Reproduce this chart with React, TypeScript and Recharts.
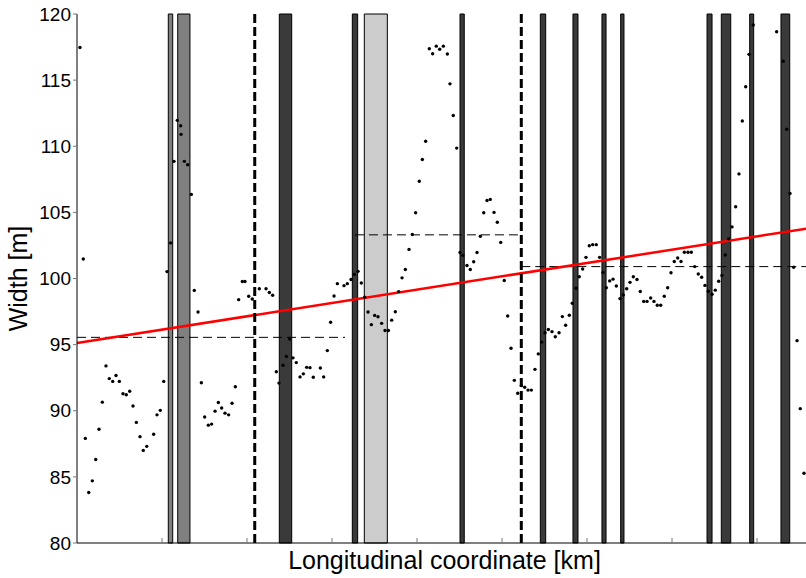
import { ComposedChart, Scatter, Line, XAxis, YAxis, ReferenceArea, ReferenceLine, Label } from 'recharts';

// Channel width samples along the reach
const stationKm = [
  0.035, 0.074, 0.098, 0.138, 0.18, 0.22, 0.259, 0.298, 0.341, 0.38, 0.42, 0.459, 0.498, 0.541, 0.58, 0.62,
  0.659, 0.698, 0.741, 0.78, 0.82, 0.902, 0.941, 0.98, 1.02, 1.059, 1.102, 1.141, 1.18, 1.22, 1.224, 1.263,
  1.302, 1.345, 1.38, 1.424, 1.463, 1.502, 1.545, 1.584, 1.624, 1.663, 1.702, 1.741, 1.784, 1.824, 1.863, 1.902,
  1.945, 1.976, 2.02, 2.062, 2.145, 2.224, 2.263, 2.302, 2.345, 2.376, 2.424, 2.463, 2.502, 2.541, 2.58, 2.624,
  2.663, 2.702, 2.741, 2.78, 2.863, 2.902, 2.945, 2.984, 3.024, 3.063, 3.141, 3.18, 3.224, 3.263, 3.306, 3.345,
  3.385, 3.424, 3.463, 3.502, 3.541, 3.584, 3.624, 3.663, 3.702, 3.745, 3.784, 3.824, 3.863, 3.906, 3.945, 3.984,
  4.027, 4.063, 4.102, 4.145, 4.184, 4.227, 4.267, 4.31, 4.357, 4.388, 4.427, 4.467, 4.506, 4.538, 4.588, 4.627,
  4.667, 4.706, 4.745, 4.785, 4.824, 4.862, 4.906, 4.945, 4.985, 5.027, 5.067, 5.106, 5.145, 5.185, 5.227, 5.267,
  5.306, 5.345, 5.388, 5.427, 5.467, 5.506, 5.545, 5.588, 5.627, 5.671, 5.71, 5.749, 5.792, 5.827, 5.871, 5.909,
  5.949, 5.988, 6.027, 6.067, 6.109, 6.149, 6.188, 6.227, 6.267, 6.306, 6.345, 6.388, 6.427, 6.467, 6.506, 6.545,
  6.588, 6.627, 6.667, 6.706, 6.749, 6.788, 6.827, 6.867, 6.909, 6.949, 6.988, 7.027, 7.067, 7.106, 7.145, 7.188,
  7.227, 7.267, 7.309, 7.349, 7.388, 7.427, 7.471, 7.509, 7.549, 7.588, 7.627, 7.667, 7.706, 7.749, 7.788, 7.827,
  7.867, 7.906, 7.956, 8.231, 8.309, 8.349, 8.388, 8.431, 8.471, 8.509, 8.553,
];

const widthM = [
  117.47, 101.47, 87.91, 83.82, 84.7, 86.31, 88.6, 90.65, 93.39, 92.43, 92.22, 92.66, 92.22, 91.29, 91.21, 91.47,
  90.36, 89.12, 88.04, 87.0, 87.31, 88.22, 89.69, 90.03, 92.22, 100.52, 102.69, 108.86, 111.96, 111.55, 110.9, 108.86,
  108.6, 106.36, 99.1, 97.47, 92.12, 89.53, 88.91, 88.99, 89.97, 90.62, 90.21, 89.82, 89.69, 90.57, 91.81, 98.4,
  99.77, 99.77, 98.66, 98.45, 99.22, 99.22, 98.94, 98.73, 92.95, 92.09, 93.44, 94.11, 95.43, 94.0, 93.64, 92.56,
  92.79, 93.28, 93.26, 92.53, 93.23, 92.56, 94.55, 96.69, 98.68, 99.61, 99.46, 99.61, 99.92, 100.31, 100.54, 99.66,
  98.58, 97.47, 96.51, 97.21, 97.11, 96.61, 96.07, 96.07, 96.85, 97.49, 99.01, 100.05, 100.68, 102.2, 103.33, 104.97,
  107.35, 109.0, 110.38, 117.37, 117.0, 117.57, 117.34, 117.57, 116.97, 114.72, 112.32, 109.86, 101.97, 101.75, 100.98, 100.68,
  101.27, 101.97, 103.2, 104.97, 105.9, 105.98, 105.0, 104.25, 102.73, 99.85, 97.16, 94.73, 92.3, 91.32, 91.9, 91.78,
  91.56, 91.56, 93.13, 94.3, 95.19, 95.9, 96.14, 95.98, 95.6, 95.9, 97.12, 96.46, 97.22, 98.13, 99.26, 100.13,
  100.72, 101.6, 102.48, 102.56, 102.56, 101.6, 100.46, 99.3, 99.82, 99.95, 99.43, 98.48, 98.76, 99.22, 99.71, 100.13,
  99.92, 99.02, 98.27, 98.27, 98.53, 98.27, 97.98, 97.98, 98.66, 99.3, 100.44, 101.29, 101.55, 101.29, 101.99, 101.99,
  101.99, 100.9, 100.34, 100.1, 99.48, 99.04, 98.81, 99.12, 99.79, 100.23, 101.78, 103.0, 103.9, 105.43, 107.91, 111.91,
  114.5, 116.95, 119.17, 118.66, 116.43, 111.29, 106.43, 100.85, 95.3, 90.16, 85.27,
];

// Shaded stretches (structures / bridges) along the reach
const reachStart = [1.074, 1.185, 2.38, 3.239, 3.38, 4.506, 5.451, 5.835, 6.176, 6.396, 7.412, 7.58, 7.914, 8.282];
const reachEnd = [1.126, 1.329, 2.526, 3.302, 3.651, 4.556, 5.514, 5.894, 6.224, 6.435, 7.471, 7.691, 7.961, 8.385];
const reachTone = ['mid', 'mid', 'dark', 'dark', 'light', 'dark', 'dark', 'dark', 'dark', 'dark', 'dark', 'dark', 'dark', 'dark'];

// Section boundaries
const breakKm = [2.091, 5.227];

// Mean width per section
const meanFrom = [0, 3.27, 5.227];
const meanTo = [3.153, 5.227, 8.6];
const meanWidth = [95.55, 103.3, 100.9];

// Linear trend
const trendKm = [0, 8.6];
const trendWidth = [95.13, 103.79];

const widthTicks = [80, 85, 90, 95, 100, 105, 110, 115, 120];
const kmTicks = [1, 2, 3, 4, 5, 6, 7, 8];

const toneFill: Record<string, string> = { dark: '#3a3a3a', mid: '#808080', light: '#cccccc' };

const points = stationKm.map((km, i) => ({ km, w: widthM[i] }));
const trend = trendKm.map((km, i) => ({ km, w: trendWidth[i] }));

const FONT = '"Liberation Sans", Arial, Helvetica, sans-serif';
const blank = () => '';

const Dot = (props: any) => <circle cx={props.cx} cy={props.cy} r={1.7} fill="#000" />;

export default function App() {
  return (
    <div style={{ position: 'absolute', left: 0, top: 0, width: 806, height: 578, overflow: 'hidden', background: '#fff' }}>
      {/* mirrored axes reserve no space, so the bottom margin holds the x label */}
      <ComposedChart width={812} height={578} margin={{ top: 14, right: 4, bottom: 35, left: 0 }} style={{ fontFamily: FONT }}>
        <XAxis
          dataKey="km"
          type="number"
          domain={[0, 8.6]}
          ticks={kmTicks}
          tickFormatter={blank}
          mirror
          tickSize={5}
          height={35}
          axisLine={{ stroke: '#000', strokeWidth: 1 }}
          tickLine={{ stroke: '#777' }}
        >
          <Label
            content={({ viewBox }: any) => (
              <text
                x={viewBox.x + viewBox.width / 2 + 2}
                y={viewBox.y + viewBox.height + 26}
                textAnchor="middle"
                fontSize={25}
                fill="#000"
                fontFamily={FONT}
              >
                Longitudinal coordinate [km]
              </text>
            )}
          />
        </XAxis>
        <XAxis
          xAxisId="top"
          orientation="top"
          dataKey="km"
          type="number"
          domain={[0, 8.6]}
          ticks={kmTicks}
          tickFormatter={blank}
          mirror
          tickSize={5}
          height={0}
          axisLine={{ stroke: '#222', strokeWidth: 1 }}
          tickLine={{ stroke: '#777' }}
        />
        <YAxis
          dataKey="w"
          type="number"
          domain={[80, 120]}
          ticks={widthTicks}
          width={77}
          tickSize={4}
          tickMargin={2}
          axisLine={{ stroke: '#000', strokeWidth: 1 }}
          tickLine={{ stroke: '#777' }}
          tick={{ fill: '#000', fontSize: 19, fontFamily: FONT }}
        >
          <Label
            content={({ viewBox }: any) => {
              const cx = viewBox.x + 18;
              const cy = viewBox.y + viewBox.height / 2;
              return (
                <text
                  x={cx}
                  y={cy}
                  transform={`rotate(-90 ${cx} ${cy})`}
                  textAnchor="middle"
                  dominantBaseline="central"
                  fontSize={25}
                  fill="#000"
                  fontFamily={FONT}
                >
                  Width [m]
                </text>
              );
            }}
          />
        </YAxis>
        <YAxis
          yAxisId="right"
          orientation="right"
          type="number"
          domain={[80, 120]}
          ticks={widthTicks}
          tickFormatter={blank}
          mirror
          tickSize={4}
          width={4}
          axisLine={{ stroke: '#000' }}
          tickLine={{ stroke: '#777' }}
        />

        {reachStart.map((x1, i) => (
          <ReferenceArea
            key={`reach-${i}`}
            x1={x1}
            x2={reachEnd[i]}
            y1={80}
            y2={120}
            fill={toneFill[reachTone[i]]}
            fillOpacity={1}
            stroke="#000"
            strokeWidth={1}
          />
        ))}

        {meanWidth.map((w, i) => (
          <ReferenceLine
            key={`mean-${i}`}
            segment={[
              { x: meanFrom[i], y: w },
              { x: meanTo[i], y: w },
            ]}
            stroke="#000"
            strokeWidth={1}
            strokeDasharray="9 5"
          />
        ))}

        <Scatter data={points} shape={Dot} isAnimationActive={false} />

        <Line
          data={trend}
          dataKey="w"
          stroke="#ff0000"
          strokeWidth={2.5}
          dot={false}
          activeDot={false}
          isAnimationActive={false}
        />

        {breakKm.map((x) => (
          <ReferenceLine key={`break-${x}`} x={x} stroke="#000" strokeWidth={3} strokeDasharray="9 4" />
        ))}
      </ComposedChart>
    </div>
  );
}
